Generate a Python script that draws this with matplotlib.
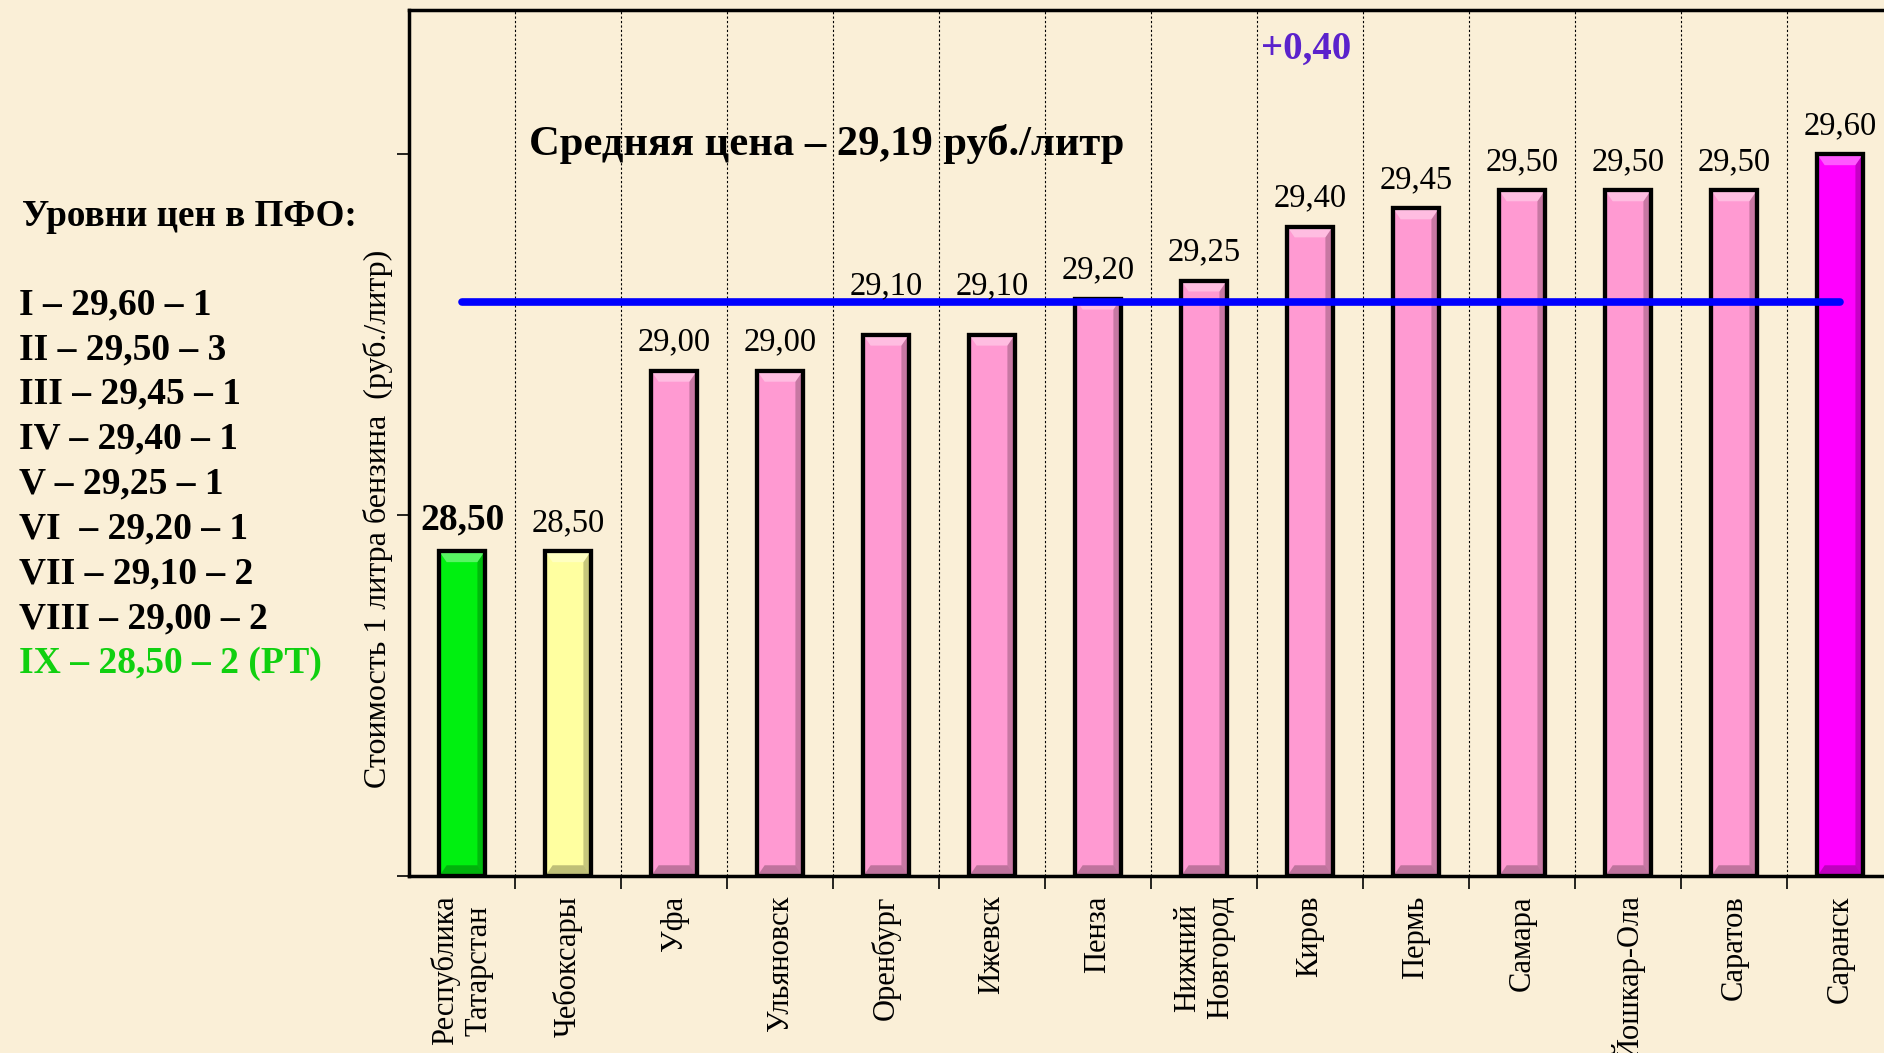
import matplotlib
matplotlib.use('Agg')
import matplotlib.pyplot as plt
from matplotlib.patches import Polygon

# data
cities = ['Республика\nТатарстан', 'Чебоксары', 'Уфа', 'Ульяновск', 'Оренбург',
          'Ижевск', 'Пенза', 'Нижний\nНовгород', 'Киров', 'Пермь', 'Самара',
          'Йошкар-Ола', 'Саратов', 'Саранск']
prices = [28.50, 28.50, 29.00, 29.00, 29.10, 29.10, 29.20, 29.25, 29.40,
          29.45, 29.50, 29.50, 29.50, 29.60]
colors = ['#00F010', '#FFFFA0'] + ['#FF9AD2'] * 11 + ['#FF00FF']
mean_price = 29.19
levels = ['I – 29,60 – 1', 'II – 29,50 – 3', 'III – 29,45 – 1', 'IV – 29,40 – 1',
          'V – 29,25 – 1', 'VI  – 29,20 – 1', 'VII – 29,10 – 2', 'VIII – 29,00 – 2',
          'IX – 28,50 – 2 (РТ)']
level_colors = ['black'] * 8 + ['#10D010']

bg = '#FAEFD7'
plt.rcParams['font.family'] = ['Liberation Serif', 'DejaVu Serif']

fig = plt.figure(figsize=(18.84, 10.53), dpi=100, facecolor=bg)
ax = fig.add_axes([0.2171, 0.168, 0.7877, 0.8225])
ax.set_facecolor(bg)

ymin, ymax = 27.6, 30.0
width = 0.43
x = list(range(len(cities)))
bars = ax.bar(x, [p - ymin for p in prices], bottom=ymin, width=width,
              color=colors, edgecolor='black', linewidth=3, zorder=3)

# simple bevel: light top chevron, dark right strip
bx, by = 0.07, 0.03
for xi, p, c in zip(x, prices, colors):
    l, r = xi - width / 2, xi + width / 2
    ax.add_patch(Polygon([(r - bx, ymin + by), (r, ymin), (r, p), (r - bx, p - by)],
                         closed=True, facecolor='black', alpha=0.22,
                         edgecolor='none', zorder=3.5))
    ax.add_patch(Polygon([(l, p), (r, p), (r - bx, p - by), (l + bx, p - by)],
                         closed=True, facecolor='white', alpha=0.35,
                         edgecolor='none', zorder=3.5))
    ax.add_patch(Polygon([(l, ymin), (r, ymin), (r - bx, ymin + by), (l + bx, ymin + by)],
                         closed=True, facecolor='black', alpha=0.25,
                         edgecolor='none', zorder=3.5))
    ax.add_patch(Polygon([(l, p), (l, ymin), (r, ymin), (r, p)], closed=True,
                         facecolor='none', edgecolor='black', linewidth=3, zorder=3.6))

# value labels (those that would sit on the average line are lifted a bit)
for i, p in enumerate(prices):
    s = '{:.2f}'.format(p).replace('.', ',')
    off = 0.037
    if mean_price - 0.15 < p < mean_price - 0.02:
        off += 0.055
    if i == 0:
        ax.text(i, p + off, s, ha='center', va='bottom', fontsize=27,
                fontweight='bold', zorder=5)
    else:
        ax.text(i, p + off, s, ha='center', va='bottom', fontsize=23.5, zorder=5)

# average line
ax.plot([x[0], x[-1]], [mean_price, mean_price], color='#0000FF', linewidth=5.5,
        solid_capstyle='round', zorder=4)

ax.text(0.63, 29.63, 'Средняя цена – 29,19 руб./литр', fontsize=30.7,
        fontweight='bold', va='center', ha='left')
ax.text(7.96, 29.89, '+0,40', fontsize=28, fontweight='bold', color='#5B22CC',
        ha='center', va='center')

ax.set_xlim(-0.5, len(cities) - 0.5)
ax.set_ylim(ymin, ymax)
ax.set_yticks([27.6, 28.6, 29.6])
ax.set_yticklabels([])
ax.tick_params(axis='y', direction='out', length=9, width=1.2)

ax.set_xticks(x)
ax.set_xticklabels(cities, rotation=90, fontsize=22, va='top', ha='center',
                   multialignment='center')
ax.tick_params(axis='x', which='major', length=0, pad=14)
ax.set_xticks([i + 0.5 for i in x[:-1]], minor=True)
ax.tick_params(axis='x', which='minor', direction='out', length=9, width=1.2)
ax.grid(True, axis='x', which='minor', color='black', linestyle=(0, (2, 2)),
        linewidth=0.8, zorder=1)

for side in ['left', 'bottom', 'top']:
    ax.spines[side].set_linewidth(2.5)
ax.spines['right'].set_visible(False)

ax.set_ylabel('Стоимость 1 литра бензина  (руб./литр)', fontsize=23)
ax.yaxis.set_label_coords(-0.0105, 0.412)

# left-side legend text
fig.text(0.0115, 0.7945, 'Уровни цен в ПФО:', fontsize=26.7, fontweight='bold',
         va='center', ha='left')
for k, (t, c) in enumerate(zip(levels, level_colors)):
    fig.text(0.0102, 0.7107 - k * 0.04265, t, fontsize=27, fontweight='bold',
             color=c, va='center', ha='left')

fig.savefig('out.png', dpi=100, facecolor=bg)
